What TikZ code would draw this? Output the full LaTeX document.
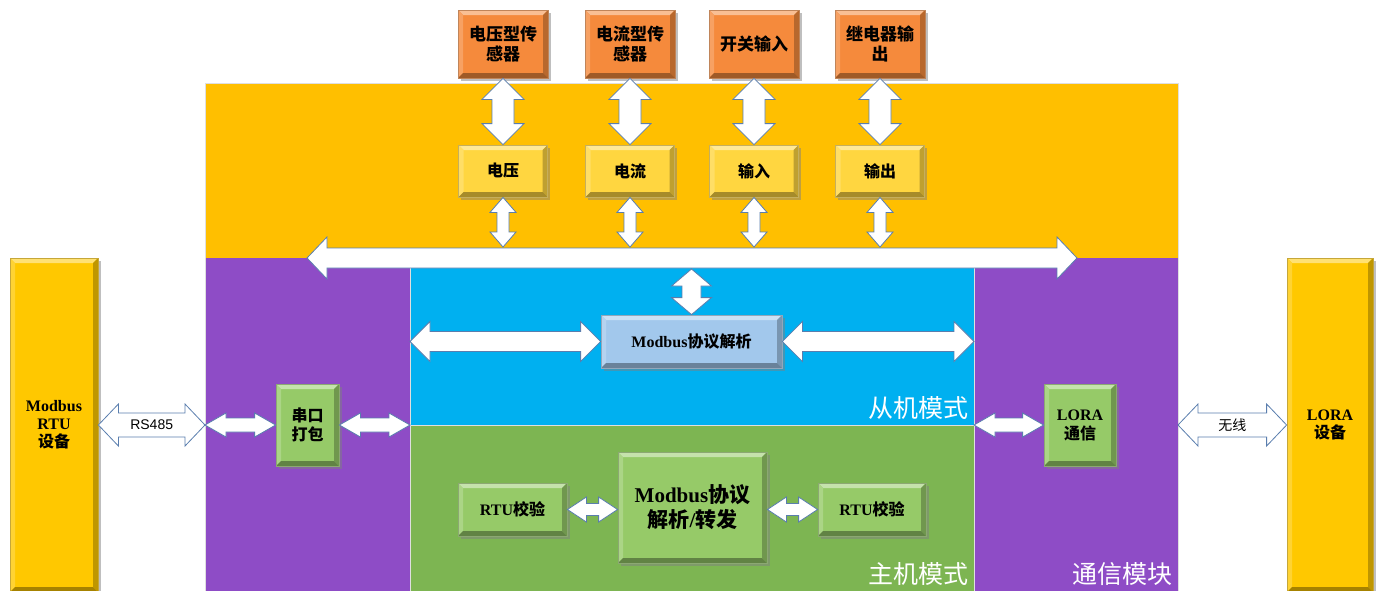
\documentclass[tikz,border=0pt]{standalone}
\usepackage{fontspec}
\setmainfont{Liberation Serif}
\newfontfamily\cjk{Noto Sans CJK SC}
\newfontfamily\sansf{Liberation Sans}
\usetikzlibrary{shadows,calc}

\definecolor{bandyellow}{HTML}{FFBF00}
\definecolor{bandpurple}{HTML}{8E4CC6}
\definecolor{bandblue}{HTML}{00B0F0}
\definecolor{bandgreen}{HTML}{7DB552}
\definecolor{sensororange}{HTML}{F58A3C}
\definecolor{chanyellow}{HTML}{FFD640}
\definecolor{parseblue}{HTML}{A2C8EC}
\definecolor{stepgreen}{HTML}{96CA68}
\definecolor{devyellow}{HTML}{FFC800}
\definecolor{arrowblue}{HTML}{5A7EAE}

\newcommand\cn[1]{{\cjk #1}}
\newcommand\fsz[2]{\fontsize{#1}{#2}\selectfont}
% horizontal double arrow: from, to, half body, half head, head length
\newcommand\hdarrow[5]{%
  \filldraw[fatarrow] let \p1=(#1), \p2=(#2) in
    (\x1,\y1) -- (\x1+#5pt,\y1+#4pt) -- (\x1+#5pt,\y1+#3pt) -- (\x2-#5pt,\y1+#3pt)
    -- (\x2-#5pt,\y1+#4pt) -- (\x2,\y1) -- (\x2-#5pt,\y1-#4pt) -- (\x2-#5pt,\y1-#3pt)
    -- (\x1+#5pt,\y1-#3pt) -- (\x1+#5pt,\y1-#4pt) -- cycle;}
% vertical double arrow: from (top), to (bottom), half body, half head, head length
\newcommand\vdarrow[5]{%
  \filldraw[fatarrow] let \p1=(#1), \p2=(#2) in
    (\x1,\y1) -- (\x1+#4pt,\y1-#5pt) -- (\x1+#3pt,\y1-#5pt) -- (\x1+#3pt,\y2+#5pt)
    -- (\x1+#4pt,\y2+#5pt) -- (\x1,\y2) -- (\x1-#4pt,\y2+#5pt) -- (\x1-#3pt,\y2+#5pt)
    -- (\x1-#3pt,\y1-#5pt) -- (\x1-#4pt,\y1-#5pt) -- cycle;}

\begin{document}
\begin{tikzpicture}[x=1pt,y=-1pt,
  fatarrow/.style={fill=white, draw=arrowblue, line width=0.8pt, line join=miter},
  bevel/.style={rectangle, fill=#1, draw=#1!55!gray, line width=0.8pt, align=center, inner sep=1pt,
    drop shadow={shadow xshift=2.5pt, shadow yshift=-2.5pt, opacity=.5},
    path picture={
      \coordinate (nw) at (path picture bounding box.north west);
      \coordinate (ne) at (path picture bounding box.north east);
      \coordinate (sw) at (path picture bounding box.south west);
      \coordinate (se) at (path picture bounding box.south east);
      \fill[#1!55!white] (nw) -- (ne) -- ([shift={(-5pt,-5pt)}]ne) -- ([shift={(5pt,-5pt)}]nw) -- cycle;
      \fill[#1!80!white] (nw) -- (sw) -- ([shift={(5pt,5pt)}]sw) -- ([shift={(5pt,-5pt)}]nw) -- cycle;
      \fill[#1!75!black] (ne) -- (se) -- ([shift={(-5pt,5pt)}]se) -- ([shift={(-5pt,-5pt)}]ne) -- cycle;
      \fill[#1!65!black] (sw) -- (se) -- ([shift={(-5pt,5pt)}]se) -- ([shift={(5pt,5pt)}]sw) -- cycle;
    }},
  sensorbox/.style={bevel=sensororange, minimum width=90pt, minimum height=68pt,
    font=\cjk\bfseries\fsz{17}{20}},
  chanbox/.style={bevel=chanyellow, minimum width=89pt, minimum height=52pt,
    font=\cjk\bfseries\fsz{16}{19}},
  parsebox/.style={bevel=parseblue, minimum width=181pt, minimum height=53pt,
    font=\bfseries\fsz{16}{19}},
  stepbox/.style={bevel=stepgreen, font=\bfseries\fsz{16}{19}},
  devbar/.style={bevel=devyellow, minimum width=88pt, minimum height=334pt,
    font=\bfseries\fsz{16}{18}},
  regionlabel/.style={anchor=south east, text=white, inner sep=0pt, font=\cjk\fsz{25}{28}},
  wirelabel/.style={inner sep=0pt, font=\fsz{14}{16}}]
\useasboundingbox (0,0) rectangle (1383,590);

% bands
\fill[bandyellow] (205,83) rectangle (1178,258);
\fill[bandpurple] (205,258) rectangle (1178,595);
\fill[bandblue] (410,267) rectangle (974,425);
\fill[bandgreen] (410,425) rectangle (974,595);
\draw[white!75!gray, line width=0.7pt] (205,595) -- (205,83) -- (1178,83) -- (1178,595);
\draw[white!75!gray, line width=0.7pt] (410,595) -- (410,267) -- (974,267) -- (974,595);
\draw[white!75!gray, line width=0.7pt] (410,425) -- (974,425);

\coordinate (busL) at (307,258);
\coordinate (busR) at (1077,258);
\coordinate (busT) at (0,247);
\coordinate (busB) at (0,269);
\hdarrow{busL}{busR}{10}{21}{20}

% sensors and channels
\foreach \i/\cx/\up/\low in {1/503/{电压型传\\感器}/电压, 2/630/{电流型传\\感器}/电流,
    3/754/开关输入/输入, 4/880/{继电器输\\出}/输出}{
  \node[sensorbox] (s\i) at (\cx,44) {\up};
  \node[chanbox] (c\i) at (\cx,171) {\low};
  \vdarrow{s\i.south}{c\i.north}{11}{21}{21}
  \vdarrow{c\i.south}{c\i.south |- busT}{6}{13}{15}
}

% slave mode
\node[parsebox] (parse) at (691.5,341.5) {Modbus\cn{协议解析}};
\coordinate (slaveW) at (410,341.5);
\coordinate (slaveE) at (974,341.5);
\vdarrow{parse.north |- busB}{parse.north}{9.5}{20}{17}
\hdarrow{slaveW}{parse.west}{10}{20}{20}
\hdarrow{parse.east}{slaveE}{10}{20}{20}
\node[regionlabel] at (969,420) {从机模式};

% master mode
\node[stepbox, minimum width=109pt, minimum height=53pt] (crcL) at (512.5,509.5) {RTU\cn{校验}};
\node[stepbox, minimum width=149pt, minimum height=111pt, font=\bfseries\fsz{21}{25}]
  (fwd) at (692.5,507.5) {Modbus\cn{协议}\\\cn{解析}/\cn{转发}};
\node[stepbox, minimum width=108pt, minimum height=53pt] (crcR) at (872,509.5) {RTU\cn{校验}};
\hdarrow{crcL.east}{crcL.east -| fwd.west}{6}{12.5}{19}
\hdarrow{crcR.west -| fwd.east}{crcR.west}{6}{12.5}{19}
\node[regionlabel] at (969,586) {主机模式};

% comm module
\coordinate (leftW) at (205,425);
\coordinate (leftE) at (410,425);
\coordinate (rightW) at (974,425);
\coordinate (rightE) at (1178,425);
\node[stepbox, minimum width=63pt, minimum height=82pt] (pack) at (307.5,425) {\cn{串口}\\\cn{打包}};
\node[stepbox, minimum width=72pt, minimum height=82pt] (lora) at (1080,425) {LORA\\\cn{通信}};
\hdarrow{leftW}{pack.west}{7}{12}{21}
\hdarrow{pack.east}{leftE}{7}{12}{21}
\hdarrow{rightW}{lora.west}{7}{12}{21}
\node[regionlabel] at (1173,586) {通信模块};

% devices
\node[devbar] (rtu) at (54,425) {Modbus\\RTU\\\cn{设备}};
\node[devbar, minimum width=86pt] (loradev) at (1330,425) {LORA\\\cn{设备}};
\hdarrow{rtu.east}{leftW}{12}{21}{20}
\hdarrow{rightE}{loradev.west}{12}{21}{20}
\node[wirelabel, font=\sansf\fsz{14}{16}] at ($(rtu.east)!.5!(leftW)$) {RS485};
\node[wirelabel, font=\cjk\fsz{14}{16}] at ($(rightE)!.5!(loradev.west)$) {无线};
\end{tikzpicture}
\end{document}
